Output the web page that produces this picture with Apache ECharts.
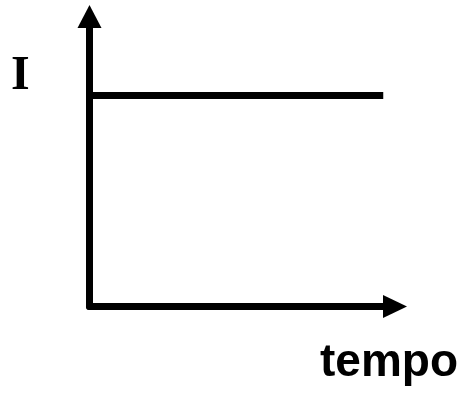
<!DOCTYPE html>
<html>
<head>
<meta charset="utf-8">
<script src="https://cdn.jsdelivr.net/npm/echarts@6/dist/echarts.min.js"></script>
<style>
  html, body { margin: 0; padding: 0; background: #fff; }
  #chart { width: 464px; height: 393px; }
</style>
</head>
<body>
<div id="chart"></div>
<script>
// constant current over time
const times = [0, 12.5];
const current = [8, 8];
const xMax = 13;
const yMax = 11;
const yLabel = 'I';
const xLabel = 'tempo';

const chart = echarts.init(document.getElementById('chart'));

const axisLine = (size) => ({
  show: true,
  symbol: ['none', 'triangle'],
  symbolSize: size,
  lineStyle: { color: '#000', width: 7 }
});

const option = {
  animation: false,
  grid: { left: 89.5, right: 69, top: 16.5, bottom: 86.5 },
  xAxis: {
    type: 'value',
    min: 0,
    max: xMax,
    axisLine: axisLine([23, 24]),
    axisTick: { show: false },
    axisLabel: { show: false },
    splitLine: { show: false }
  },
  yAxis: {
    type: 'value',
    min: 0,
    max: yMax,
    axisLine: axisLine([24, 23]),
    axisTick: { show: false },
    axisLabel: { show: false },
    splitLine: { show: false }
  },
  graphic: [
    {
      type: 'text',
      style: {
        x: 11, y: 77,
        text: yLabel,
        font: 'bold 48px "Liberation Serif", "DejaVu Serif", serif',
        fill: '#000',
        textAlign: 'left',
        textVerticalAlign: 'middle'
      }
    },
    {
      type: 'text',
      style: {
        x: 320, y: 363,
        text: xLabel,
        font: 'bold 46px "Liberation Sans", Arial, sans-serif',
        fill: '#000',
        textAlign: 'left',
        textVerticalAlign: 'middle'
      }
    }
  ],
  series: [
    {
      type: 'line',
      data: times.map((t, i) => [t, current[i]]),
      symbol: 'none',
      lineStyle: { color: '#000', width: 7 }
    }
  ]
};

chart.setOption(option);
</script>
</body>
</html>
